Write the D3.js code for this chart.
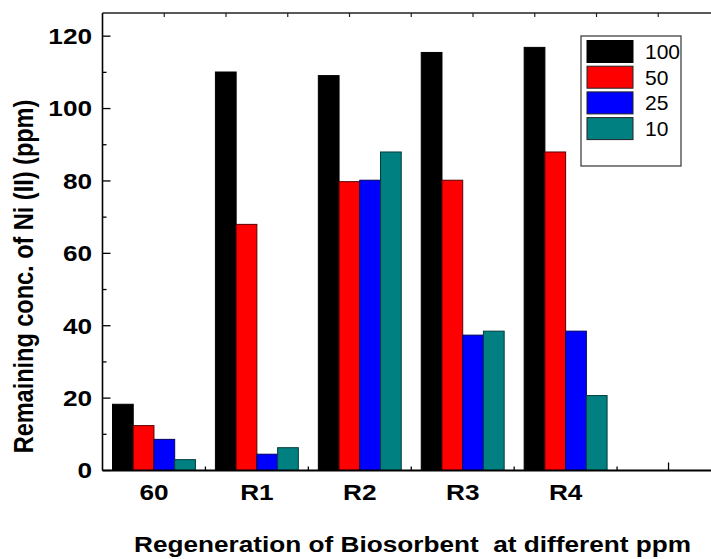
<!DOCTYPE html>
<html>
<head>
<meta charset="utf-8">
<script src="https://cdn.jsdelivr.net/npm/d3@7"></script>
<style>
  body { margin: 0; background: #fff; }
  svg { display: block; font-family: Arial, "Liberation Sans", sans-serif; }
</style>
</head>
<body>
<div id="chart"></div>
<script>
// Data
const categories = ["60", "R1", "R2", "R3", "R4", ""];
const seriesNames = ["100", "50", "25", "10"];
const values100 = [18.3, 110.1, 109.1, 115.5, 116.9];
const values50 = [12.4, 68.0, 79.8, 80.2, 88.0];
const values25 = [8.6, 4.5, 80.2, 37.4, 38.5];
const values10 = [3.0, 6.3, 88.0, 38.5, 20.7];
const yTicks = [0, 20, 40, 60, 80, 100, 120];
const yMinorTicks = [10, 30, 50, 70, 90, 110];

const seriesValues = [values100, values50, values25, values10];
const fills = ["#000000", "#ff0000", "#0000ff", "#008080"];
const strokes = ["#000000", "#5a0000", "#000060", "#003c3c"];

const width = 711, height = 559;
const plotLeft = 102.5, plotRight = 720, plotTop = 13, plotBottom = 470.5;
const stretch = 1.19; // the original text is a bit wider than it is tall

const svg = d3.select("#chart").append("svg")
  .attr("width", width)
  .attr("height", height);

// Scales
const x0 = d3.scaleBand().domain(categories).range([plotLeft, plotRight]);
const x1 = d3.scaleBand().domain(seriesNames).range([10, x0.bandwidth() - 10]);
const y = d3.scaleLinear().domain([0, 126.4]).range([plotBottom, plotTop]);

// helper for stretched bold text
function wideText(x, yPos, str, size, anchor, rotate) {
  const g = svg.append("g")
    .attr("transform", "translate(" + x + "," + yPos + ") scale(" + stretch + ",1)" + (rotate ? " rotate(" + rotate + ")" : ""));
  return g.append("text")
    .attr("text-anchor", anchor)
    .attr("font-size", size)
    .attr("font-weight", "bold")
    .text(str);
}

// Bars
const rows = [];
categories.forEach((c, i) => {
  seriesNames.forEach((s, j) => {
    if (seriesValues[j][i] !== undefined) rows.push({cat: c, series: s, j: j, value: seriesValues[j][i]});
  });
});

svg.append("g").selectAll("rect")
  .data(rows)
  .enter()
  .append("rect")
  .attr("x", d => x0(d.cat) + x1(d.series))
  .attr("y", d => y(d.value))
  .attr("width", x1.bandwidth())
  .attr("height", d => y(0) - y(d.value))
  .attr("fill", d => fills[d.j])
  .attr("stroke", d => strokes[d.j])
  .attr("stroke-width", 1);

// Left axis
svg.append("line")
  .attr("x1", plotLeft).attr("x2", plotLeft)
  .attr("y1", plotTop).attr("y2", plotBottom)
  .attr("stroke", "#000").attr("stroke-width", 1.6);

svg.selectAll(".ytick")
  .data(yTicks)
  .enter()
  .append("line")
  .attr("x1", plotLeft).attr("x2", plotLeft + 8)
  .attr("y1", d => y(d)).attr("y2", d => y(d))
  .attr("stroke", "#000").attr("stroke-width", 1.3);

svg.selectAll(".yminor")
  .data(yMinorTicks)
  .enter()
  .append("line")
  .attr("x1", plotLeft).attr("x2", plotLeft + 4)
  .attr("y1", d => y(d)).attr("y2", d => y(d))
  .attr("stroke", "#000").attr("stroke-width", 1.3);

yTicks.forEach(t => {
  wideText(92, y(t), t, 22, "end").attr("dy", "0.36em");
});

// Top axis (frame with small ticks)
const xTop = d3.scaleLinear().domain([0, 10]).range([plotLeft, plotRight]);
svg.append("line")
  .attr("x1", plotLeft).attr("x2", plotRight)
  .attr("y1", plotTop).attr("y2", plotTop)
  .attr("stroke", "#222").attr("stroke-width", 1.4);
svg.selectAll(".ttick")
  .data(d3.range(1, 11))
  .enter()
  .append("line")
  .attr("x1", d => xTop(d)).attr("x2", d => xTop(d))
  .attr("y1", plotTop).attr("y2", plotTop + 4)
  .attr("stroke", "#222").attr("stroke-width", 1.2);

// Bottom axis
svg.append("line")
  .attr("x1", plotLeft).attr("x2", plotRight)
  .attr("y1", plotBottom).attr("y2", plotBottom)
  .attr("stroke", "#000").attr("stroke-width", 2);

svg.selectAll(".btick")
  .data(categories.slice(1))
  .enter()
  .append("line")
  .attr("x1", d => x0(d)).attr("x2", d => x0(d))
  .attr("y1", plotBottom).attr("y2", plotBottom - 4)
  .attr("stroke", "#000").attr("stroke-width", 1.3);

const lastCat = categories[categories.length - 1];
svg.append("line")
  .attr("x1", x0(lastCat) + x0.bandwidth() / 2).attr("x2", x0(lastCat) + x0.bandwidth() / 2)
  .attr("y1", plotBottom).attr("y2", plotBottom - 8)
  .attr("stroke", "#000").attr("stroke-width", 1.3);

categories.forEach(c => {
  wideText(x0(c) + x0.bandwidth() / 2, 500, c, 22, "middle");
});

// Axis titles
wideText(412.5, 552, "Regeneration of Biosorbent\u00a0 at different ppm", 22, "middle");
wideText(32.5, 276.5, "Remaining conc. of Ni (II) (ppm)", 23.5, "middle", -90);

// Legend
const legend = svg.append("g");
legend.append("rect")
  .attr("x", 581).attr("y", 36)
  .attr("width", 100).attr("height", 130)
  .attr("fill", "#fff")
  .attr("stroke", "#333").attr("stroke-width", 1.2);

const items = legend.selectAll(".item")
  .data(seriesNames)
  .enter()
  .append("g")
  .attr("transform", (d, i) => "translate(0," + (40.5 + i * 25.7) + ")");

items.append("rect")
  .attr("x", 587).attr("y", 0)
  .attr("width", 46).attr("height", 22)
  .attr("fill", (d, i) => fills[i])
  .attr("stroke", (d, i) => i === 0 ? "#000" : "#222")
  .attr("stroke-width", 1);

items.append("text")
  .attr("x", 645)
  .attr("y", 11)
  .attr("dy", "0.36em")
  .attr("font-size", 21)
  .text(d => d);
</script>
</body>
</html>
